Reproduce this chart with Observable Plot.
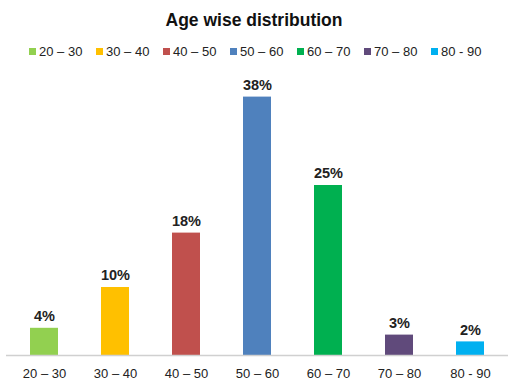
<!DOCTYPE html>
<html>
<head>
<meta charset="utf-8">
<script src="https://cdn.jsdelivr.net/npm/d3@7"></script>
<script src="https://cdn.jsdelivr.net/npm/@observablehq/plot@0.6"></script>
<style>
  body { margin: 0; background: #fff; font-family: "Liberation Sans", Arial, sans-serif; }
  #wrap { width: 508px; height: 384px; overflow: hidden; }
  #title { height: 40px; line-height: 40px; text-align: center; font-weight: bold; font-size: 17.5px; color: #111; }
  #legend { height: 22px; display: flex; align-items: center; padding-left: 29px; font-size: 13px; color: #222; }
  .item { display: flex; align-items: center; white-space: nowrap; }
  .sw { width: 7px; height: 7px; margin-right: 3px; }
</style>
</head>
<body>
<div id="wrap">
  <div id="title"></div>
  <div id="legend"></div>
  <div id="chart"></div>
</div>
<script>
const titleText = "Age wise distribution";
const categories = ["20 – 30", "30 – 40", "40 – 50", "50 – 60", "60 – 70", "70 – 80", "80 - 90"];
const values = [4, 10, 18, 38, 25, 3, 2];
const colors = ["#92D050", "#FFC000", "#C0504D", "#4F81BD", "#00B050", "#604A7B", "#00B0F0"];

document.getElementById("title").textContent = titleText;
const legend = document.getElementById("legend");
categories.forEach((c, i) => {
  const it = document.createElement("div");
  it.className = "item";
  it.style.width = "67px";
  const sw = document.createElement("span");
  sw.className = "sw";
  sw.style.background = colors[i];
  const t = document.createElement("span");
  t.textContent = c;
  it.appendChild(sw);
  it.appendChild(t);
  legend.appendChild(it);
});

const data = categories.map((c, i) => ({cat: c, value: values[i], label: values[i] + "%"}));

const chart = Plot.plot({
  width: 508,
  height: 322,
  marginLeft: 6,
  marginRight: 0,
  marginTop: 21,
  marginBottom: 29,
  style: {fontFamily: "'Liberation Sans', Arial, sans-serif", fontSize: "13px", color: "#222"},
  x: {domain: categories, paddingInner: 0.6, paddingOuter: 0.3, label: null},
  y: {domain: [0, 40], axis: null},
  color: {domain: categories, range: colors},
  marks: [
    Plot.barY(data, {x: "cat", y: "value", fill: "cat"}),
    Plot.ruleY([0], {stroke: "#d0d0d0", strokeWidth: 1.5}),
    Plot.text(data, {x: "cat", y: "value", text: "label", dy: -12, fontWeight: "bold", fontSize: 14.5, fill: "#222"}),
    Plot.axisX({tickSize: 0, tickPadding: 13, fontSize: 13, label: null})
  ]
});
document.getElementById("chart").appendChild(chart);
</script>
</body>
</html>
